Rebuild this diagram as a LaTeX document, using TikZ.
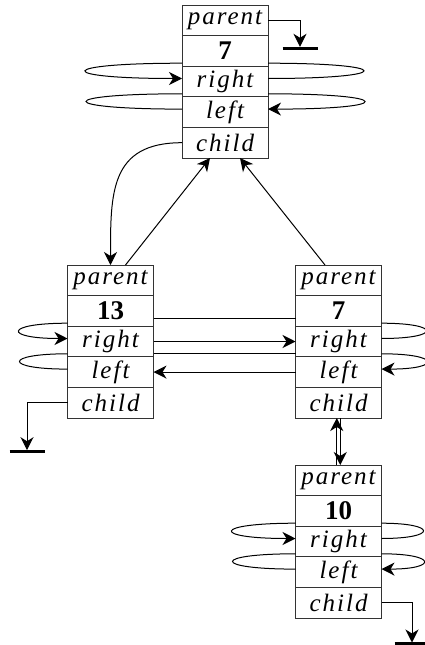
\documentclass[tikz,border=0pt]{standalone}
\usepackage{fontspec}
\setmainfont{Liberation Serif}
\newfontfamily\fieldfont[LetterSpace=8]{Liberation Serif}
\usetikzlibrary{positioning,arrows.meta}
\newcommand{\fieldText}[1]{\fieldfont\itshape\fontsize{25}{27}\selectfont #1}
\newcommand{\keyText}[1]{\bfseries\fontsize{27}{29}\selectfont #1}
\newcommand{\drawHeapNode}[3]{%
  \node [cell] (#1Parent) at #2 {\fieldText{parent}};
  \node [cell, below=0pt of #1Parent] (#1Key) {\keyText{#3}};
  \node [cell, below=0pt of #1Key] (#1Right) {\fieldText{right}};
  \node [cell, below=0pt of #1Right] (#1Left) {\fieldText{left}};
  \node [cell, below=0pt of #1Left] (#1Child) {\fieldText{child}};
}
\newcommand{\drawLoop}[4]{\draw [link, #1] #2 .. controls +(#4,0) and +(#4,0) .. #3}
\newcommand{\drawGround}[1]{\draw [ground] ([xshift=-17.5pt]#1) -- ([xshift=17.5pt]#1)}

\begin{document}
\begin{tikzpicture}[x=1pt, y=1pt,
    cell/.style={draw=black!80, line width=0.9pt, minimum width=86pt, minimum height=30.6pt, inner sep=0pt, outer sep=0pt},
    link/.style={line width=1pt},
    ground/.style={line width=3.2pt},
    >={Stealth[length=13pt, width=13pt, inset=4pt]}]
    \useasboundingbox (0,0) rectangle (424,-645);

    \drawHeapNode{top}{(225,-20.3)}{7};
    \drawHeapNode{thirteen}{(110.5,-280.3)}{13};
    \drawHeapNode{seven}{(338.5,-280.3)}{7};
    \drawHeapNode{ten}{(338.5,-480.3)}{10};

    % for the root
    \drawLoop{->}{([yshift=3pt]topRight.north west)}{([yshift=3pt]topRight.west)}{-128};
    \drawLoop{}{([yshift=3pt]topLeft.north west)}{([yshift=3pt]topLeft.west)}{-128};
    \drawLoop{}{([yshift=3pt]topRight.north east)}{([yshift=3pt]topRight.east)}{128};
    \drawLoop{->}{([yshift=3pt]topLeft.north east)}{([yshift=3pt]topLeft.east)}{128};
    \coordinate (topGround) at (300,-48.3);
    \draw [link, ->, shorten >=1.5pt] (topParent.east) -| (topGround);
    \drawGround{topGround};

    % root down to its children
    \draw [link, ->] (topChild.west) to [out=180, in=90, looseness=1.3] (thirteenParent.north);
    \draw [link, ->] ([xshift=15pt]thirteenParent.north) -- ([xshift=-15pt]topChild.south);
    \draw [link, ->] ([xshift=-13.5pt]sevenParent.north) -- ([xshift=15pt]topChild.south);

    % for 13
    \drawLoop{->}{([yshift=3pt]thirteenRight.north west)}{([yshift=3pt]thirteenRight.west)}{-64};
    \drawLoop{}{([yshift=3pt]thirteenLeft.north west)}{([yshift=3pt]thirteenLeft.west)}{-64};
    \coordinate (thirteenGround) at (27,-451.7);
    \draw [link, ->, shorten >=1.5pt] (thirteenChild.west) -| (thirteenGround);
    \drawGround{thirteenGround};

    % between 13 and 7
    \draw [link] ([yshift=-8pt]thirteenKey.east) -- ([yshift=-8pt]sevenKey.west);
    \draw [link, ->] (thirteenRight) -- (sevenRight);
    \draw [link] ([yshift=3pt]thirteenLeft.north east) -- ([yshift=3pt]sevenLeft.north west);
    \draw [link, ->] (sevenLeft) -- (thirteenLeft);

    % for 7
    \drawLoop{}{([yshift=3pt]sevenRight.north east)}{([yshift=3pt]sevenRight.east)}{60};
    \drawLoop{->}{([yshift=3pt]sevenLeft.north east)}{([yshift=3pt]sevenLeft.east)}{60};
    \draw [link, ->] ([xshift=-1.75pt]tenParent.north) -- ([xshift=-1.75pt]sevenChild.south);
    \draw [link, ->] ([xshift=1.75pt]sevenChild.south) -- ([xshift=1.75pt]tenParent.north);

    % for 10
    \drawLoop{->}{([yshift=3pt]tenRight.north west)}{([yshift=3pt]tenRight.west)}{-84};
    \drawLoop{}{([yshift=3pt]tenLeft.north west)}{([yshift=3pt]tenLeft.west)}{-84};
    \drawLoop{}{([yshift=3pt]tenRight.north east)}{([yshift=3pt]tenRight.east)}{56};
    \drawLoop{->}{([yshift=3pt]tenLeft.north east)}{([yshift=3pt]tenLeft.east)}{56};
    \coordinate (tenGround) at (412,-644);
    \draw [link, ->, shorten >=1.5pt] (tenChild.east) -| (tenGround);
    \drawGround{tenGround};

\end{tikzpicture}
\end{document}
